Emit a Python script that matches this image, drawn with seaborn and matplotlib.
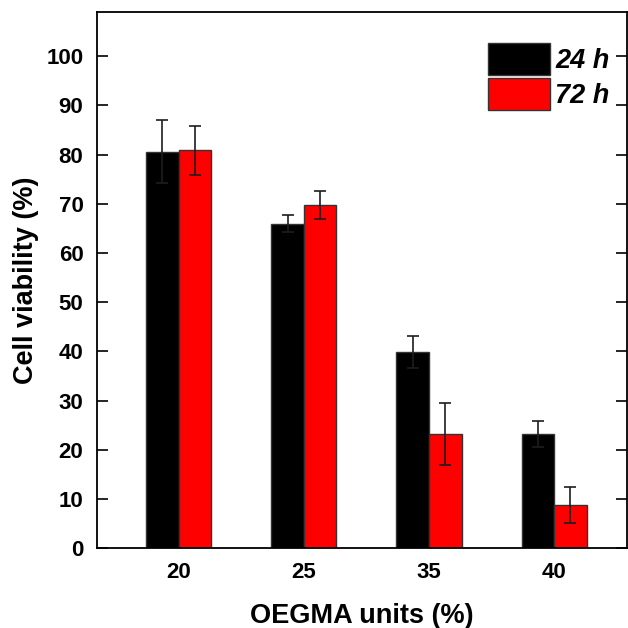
import pandas as pd
import numpy as np
import seaborn as sns
import matplotlib.pyplot as plt

units = ['20', '25', '35', '40']
times = ['24 h', '72 h']
via_24 = [80.6, 66.0, 39.9, 23.2]
err_24 = [6.4, 1.7, 3.3, 2.6]
via_72 = [80.9, 69.8, 23.3, 8.8]
err_72 = [5.0, 2.8, 6.3, 3.6]

df = pd.DataFrame({
    'units': units * 2,
    'time': [times[0]] * 4 + [times[1]] * 4,
    'viability': via_24 + via_72,
    'err': err_24 + err_72,
})

sns.set_style('ticks', {'text.color': 'black', 'axes.labelcolor': 'black',
                        'xtick.color': 'black', 'ytick.color': 'black',
                        'axes.edgecolor': 'black'})
plt.rcParams['font.family'] = ['Liberation Sans', 'DejaVu Sans']
plt.rcParams['font.weight'] = 'bold'

fig = plt.figure(figsize=(6.28, 6.28), dpi=100)
ax = fig.add_axes([0.155, 0.127, 0.843, 0.854])

sns.barplot(data=df, x='units', y='viability', hue='time', order=units,
            hue_order=times, palette=['#000000', '#ff0000'], width=0.52,
            edgecolor='#333333', linewidth=1, saturation=1, errorbar=None, ax=ax)

# error bars at the bar centres
for cont, t in zip(ax.containers, times):
    sub = df[df['time'] == t].set_index('units').loc[units]
    xs = [p.get_x() + p.get_width() / 2 for p in cont.patches]
    ax.errorbar(xs, sub['viability'], yerr=sub['err'], fmt='none',
                ecolor='#1e1e1e', elinewidth=1.2, capsize=4, capthick=1.2)

ax.set_xlim(-0.65, 3.58)
ax.set_ylim(0, 109)
ax.set_yticks(np.arange(0, 101, 10))
ax.tick_params(axis='y', direction='in', length=8, width=1.2, right=True,
               labelsize=16, pad=10)
ax.tick_params(axis='x', length=0, labelsize=16, pad=10)
for s in ax.spines.values():
    s.set_linewidth(1.3)

ax.set_xlabel('OEGMA units (%)', fontsize=19.5, fontweight='bold', labelpad=14)
ax.set_ylabel('Cell viability (%)', fontsize=19.5, fontweight='bold', labelpad=5)

ax.legend(loc='upper right', bbox_to_anchor=(0.968, 0.942), frameon=False,
          prop={'size': 19.5, 'weight': 'bold', 'style': 'italic'},
          handlelength=2.3, handleheight=1.45, labelspacing=0.1, handletextpad=0.2,
          borderaxespad=0, borderpad=0, title=None)

plt.savefig('out.png', dpi=100)
